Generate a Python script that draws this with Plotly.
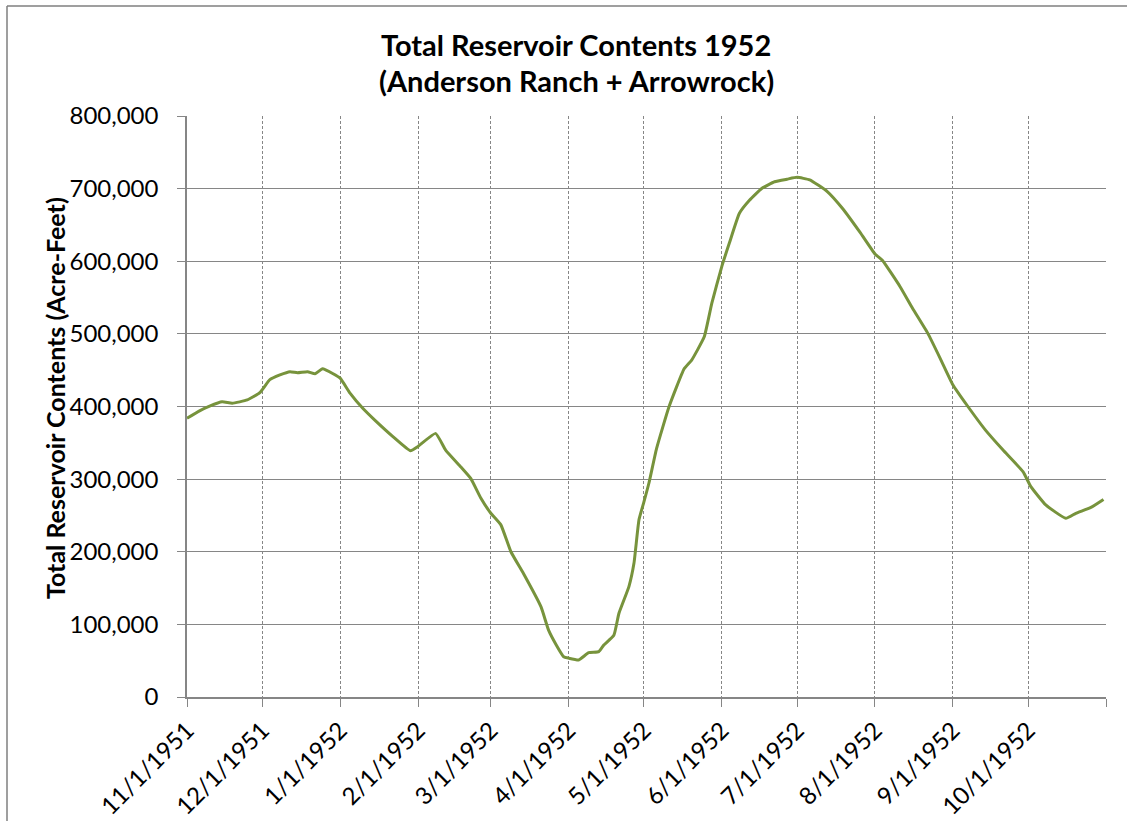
import plotly.graph_objects as go

# ---- data ----
dates = [
    "1951-11-01", "1951-11-06", "1951-11-10", "1951-11-15", "1951-11-19", "1951-11-25",
    "1951-11-30", "1951-12-04", "1951-12-08", "1951-12-12", "1951-12-15", "1951-12-19",
    "1951-12-22", "1951-12-25", "1951-12-29", "1952-01-01", "1952-01-05", "1952-01-10",
    "1952-01-15", "1952-01-22", "1952-01-29", "1952-02-01", "1952-02-08", "1952-02-12",
    "1952-02-18", "1952-02-22", "1952-02-26", "1952-03-01", "1952-03-05", "1952-03-09",
    "1952-03-14", "1952-03-21", "1952-03-24", "1952-03-27", "1952-03-30", "1952-04-01",
    "1952-04-05", "1952-04-09", "1952-04-13", "1952-04-15", "1952-04-19", "1952-04-21",
    "1952-04-25", "1952-04-27", "1952-04-29", "1952-05-01", "1952-05-03", "1952-05-06",
    "1952-05-11", "1952-05-17", "1952-05-20", "1952-05-25", "1952-05-28", "1952-06-01",
    "1952-06-04", "1952-06-08", "1952-06-12", "1952-06-17", "1952-06-22", "1952-06-27",
    "1952-07-01", "1952-07-06", "1952-07-13", "1952-07-19", "1952-07-26", "1952-08-01",
    "1952-08-04", "1952-08-11", "1952-08-16", "1952-08-22", "1952-08-27", "1952-09-01",
    "1952-09-07", "1952-09-14", "1952-09-21", "1952-09-29", "1952-10-02", "1952-10-08",
    "1952-10-16", "1952-10-20", "1952-10-26", "1952-10-31",
]
contents = [
    383700, 394000, 400500, 406500, 404500, 409000,
    419000, 437000, 443500, 448000, 446500, 448000,
    445000, 452000, 445500, 439000, 418000, 397500,
    380500, 358500, 339000, 345000, 363000, 340000,
    317000, 301000, 274000, 253000, 237000, 200000,
    170000, 124000, 92000, 72000, 55500, 53500,
    51000, 61000, 62500, 71500, 85000, 115000,
    152000, 184000, 244000, 269000, 295000, 342000,
    400000, 452000, 464000, 496000, 542000, 593000,
    625000, 666000, 684000, 700500, 709500, 713000,
    715500, 712000, 696000, 673000, 640000, 610000,
    601000, 565000, 535000, 501000, 466000, 430000,
    400000, 367500, 340000, 310000, 290000, 264500,
    246000, 253000, 261000, 272000,
]
tick_dates = [
    "1951-11-01", "1951-12-01", "1952-01-01", "1952-02-01", "1952-03-01", "1952-04-01",
    "1952-05-01", "1952-06-01", "1952-07-01", "1952-08-01", "1952-09-01", "1952-10-01",
    "1952-11-01",
]
tick_labels = [
    "11/1/1951", "12/1/1951", "1/1/1952", "2/1/1952", "3/1/1952", "4/1/1952",
    "5/1/1952", "6/1/1952", "7/1/1952", "8/1/1952", "9/1/1952", "10/1/1952", "",
]
y_ticks = [0, 100000, 200000, 300000, 400000, 500000, 600000, 700000, 800000]
title_lines = ["Total Reservoir Contents 1952", "(Anderson Ranch + Arrowrock)"]
y_title = "Total Reservoir Contents (Acre-Feet)"

W, H = 1127, 821
L, R, T, B = 187, 21, 116, 124
PW, PH = W - L - R, H - T - B

def px_x(p):
    return (p - L) / PW

def px_y(p):
    return 1 + (T - p) / PH

GRID = "#868686"
FONT = "Lato"

fig = go.Figure()
fig.add_trace(go.Scatter(
    x=dates, y=contents, mode="lines",
    line=dict(color="#77933C", width=3, shape="spline", smoothing=0.4),
    showlegend=False, hoverinfo="x+y",
))

fig.update_layout(
    width=W, height=H,
    margin=dict(l=L, r=R, t=T, b=B, autoexpand=False),
    paper_bgcolor="white", plot_bgcolor="white",
    font=dict(family=FONT, color="#000000"),
    showlegend=False,
)

fig.update_xaxes(
    type="date", automargin=False,
    range=["1951-11-01", "1952-11-01"],
    tickmode="array", tickvals=tick_dates, ticktext=tick_labels,
    tickangle=-45,
    tickfont=dict(family=FONT, size=24, color="#000000"),
    ticks="outside", ticklen=8, tickcolor=GRID, tickwidth=1,
    showgrid=True, gridcolor=GRID, gridwidth=1, griddash="3px,2px",
    showline=True, linecolor=GRID, linewidth=1.5,
    zeroline=False,
)
fig.update_yaxes(
    automargin=False,
    range=[0, 800000],
    tickmode="array", tickvals=y_ticks,
    tickformat=",",
    tickfont=dict(family=FONT, size=24, color="#000000"),
    ticks="outside", ticklen=8, tickcolor=GRID, tickwidth=1,
    ticklabelstandoff=14,
    showgrid=True, gridcolor=GRID, gridwidth=1,
    showline=True, linecolor=GRID, linewidth=1.5,
    zeroline=False,
)

# y-axis title
fig.add_annotation(
    text="<b>" + y_title + "</b>", xref="paper", yref="paper",
    x=px_x(55), y=px_y(398), xanchor="center", yanchor="middle",
    textangle=-90, showarrow=False,
    font=dict(family=FONT, size=25, color="#000000"),
)

# title (two lines)
for txt, yp in zip(title_lines, [45, 81]):
    fig.add_annotation(
        text="<b>" + txt + "</b>", xref="paper", yref="paper",
        x=px_x(576), y=px_y(yp), xanchor="center", yanchor="middle",
        showarrow=False, font=dict(family=FONT, size=29, color="#000000"),
    )

# outer frame (top and left edges visible in the reference)
fig.add_shape(type="line", xref="paper", yref="paper",
              x0=px_x(7), y0=px_y(6), x1=px_x(1127), y1=px_y(6),
              line=dict(color="#7f7f7f", width=1.5))
fig.add_shape(type="line", xref="paper", yref="paper",
              x0=px_x(7), y0=px_y(6), x1=px_x(7), y1=px_y(821),
              line=dict(color="#7f7f7f", width=1.5))

fig.write_html("out.html", config={"displayModeBar": False},
               post_script="document.body.style.margin='0px';")
